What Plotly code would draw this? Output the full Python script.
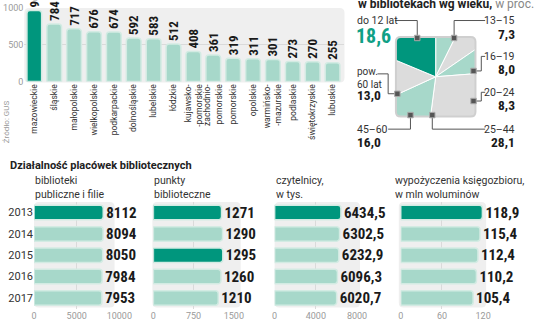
import plotly.graph_objects as go

# ---------------- data ----------------
regions = ["mazowieckie", "śląskie", "małopolskie", "wielkopolskie", "podkarpackie",
           "dolnośląskie", "lubelskie", "łódzkie", "kujawsko-<br>-pomorskie",
           "zachodnio-<br>pomorskie", "pomorskie", "opolskie", "warmińsko-<br>-mazurskie",
           "podlaskie", "świętokrzyskie", "lubuskie"]
region_values = [965, 784, 717, 676, 674, 592, 583, 512, 408, 361, 319, 311, 301, 273, 270, 255]
region_ticks = [0, 500, 1000]

age_labels = ["do 12 lat", "13–15", "16–19", "20–24", "25–44", "45–60", "pow.<br>60 lat"]
age_values = [18.6, 7.3, 8.0, 8.3, 28.1, 16.0, 13.0]
pie_order = [1, 2, 3, 4, 5, 6, 0]  # clockwise from 12 o'clock

years = ["2013", "2014", "2015", "2016", "2017"]
libraries = [8112, 8094, 8050, 7984, 7953]
points = [1271, 1290, 1295, 1260, 1210]
readers = [6434.5, 6302.5, 6232.9, 6096.3, 6020.7]
loans = [118.9, 115.4, 112.4, 110.2, 105.4]
lib_ticks = [0, 5000, 10000]
pts_ticks = [0, 750, 1500]
rdr_ticks = [0, 4000, 8000]
loan_ticks = [0, 60, 120]

# ---------------- styling ----------------
W, H = 536, 332
DARK = "#00967d"
LIGHT = "#a7d8ca"
EDGE = "#d3ebe3"
GREY = "#dcdcdc"
PANEL = "#efefef"
GRID = "#dadada"
NUM = "Liberation Sans Narrow, Roboto Condensed, Arial Narrow, sans-serif"
TXT = "Roboto, Noto Sans, sans-serif"


def X(p):
    return p / W


def Y(p):
    return 1 - p / H


def fmt1(v):
    return f"{v:.1f}".replace(".", ",")


def rpath(x0, y0, x1, y1, r, reverse=False):
    if not reverse:
        pts = [("M", x0 + r, y0), ("L", x1 - r, y0), ("Q", x1, y0, x1, y0 + r),
               ("L", x1, y1 - r), ("Q", x1, y1, x1 - r, y1), ("L", x0 + r, y1),
               ("Q", x0, y1, x0, y1 - r), ("L", x0, y0 + r), ("Q", x0, y0, x0 + r, y0)]
    else:
        pts = [("M", x0 + r, y0), ("Q", x0, y0, x0, y0 + r), ("L", x0, y1 - r),
               ("Q", x0, y1, x0 + r, y1), ("L", x1 - r, y1), ("Q", x1, y1, x1, y1 - r),
               ("L", x1, y0 + r), ("Q", x1, y0, x1 - r, y0)]
    s = ""
    for p in pts:
        cmd = p[0]
        c = p[1:]
        coords = []
        for i in range(0, len(c), 2):
            coords.append(f"{X(c[i]):.5f},{Y(c[i+1]):.5f}")
        s += cmd + " " + " ".join(coords) + " "
    return s + "Z"


def poly(points_px):
    return "M " + " L ".join(f"{X(a):.5f},{Y(b):.5f}" for a, b in points_px)


fig = go.Figure()

# ---------------- top bar chart ----------------
fig.add_trace(go.Bar(
    x=regions, y=region_values,
    marker=dict(color=[DARK] + [LIGHT] * (len(regions) - 1), line=dict(color=EDGE, width=1.5),
                cornerradius=3),
    width=0.74,
    text=[str(v) for v in region_values], textposition="outside", textangle=-90,
    textfont=dict(family=NUM, size=13, color="#1a1a1a", weight="bold"), cliponaxis=False,
    constraintext="none", xaxis="x", yaxis="y", showlegend=False, hoverinfo="skip"))

# ---------------- pie ----------------
pie_colors = [LIGHT, GREY, LIGHT, GREY, LIGHT, GREY, DARK]
fig.add_trace(go.Pie(
    labels=[age_labels[i] for i in pie_order], values=[age_values[i] for i in pie_order],
    sort=False, direction="clockwise", rotation=0, textinfo="none",
    marker=dict(colors=pie_colors, line=dict(color="white", width=1)),
    domain=dict(x=[X(386), X(506)], y=[Y(134), Y(14)]), showlegend=False, hoverinfo="skip"))

# ---------------- bottom panels ----------------
panels = [
    (libraries, [str(v) for v in libraries], [DARK, LIGHT, LIGHT, LIGHT, LIGHT], lib_ticks, 32, 120),
    (points, [str(v) for v in points], [DARK, LIGHT, DARK, LIGHT, LIGHT], pts_ticks, 155, 238),
    (readers, [fmt1(v) for v in readers], [DARK, LIGHT, LIGHT, LIGHT, LIGHT], rdr_ticks, 280, 365),
    (loans, [fmt1(v) for v in loans], [DARK, LIGHT, LIGHT, LIGHT, LIGHT], loan_ticks, 410, 495),
]

layout_axes = {}
for k, (vals, txt, cols, ticks, x0, x1) in enumerate(panels):
    n = k + 2
    fig.add_trace(go.Bar(
        y=years, x=vals, orientation="h", width=0.68,
        marker=dict(color=cols, line=dict(color=EDGE, width=1.5), cornerradius=3),
        text=txt, textposition="outside",
        textfont=dict(family=NUM, size=15, color="#1a1a1a", weight="bold"),
        cliponaxis=False, constraintext="none",
        xaxis=f"x{n}", yaxis=f"y{n}", showlegend=False, hoverinfo="skip"))
    layout_axes[f"xaxis{n}"] = dict(
        domain=[X(x0), X(x1)], range=[0, ticks[-1] * 1.001], tickvals=ticks,
        ticktext=[str(t) for t in ticks], ticklabeloverflow="allow",
        showgrid=True, gridcolor=GRID, gridwidth=1, zeroline=False, showline=False,
        ticks="", tickfont=dict(size=9, color="#9a9a9a", family=TXT), anchor=f"y{n}", fixedrange=True)
    layout_axes[f"yaxis{n}"] = dict(
        domain=[Y(313), Y(203)], range=[4.5, -0.5], type="category",
        showticklabels=(k == 0), tickfont=dict(size=11, color="#333", family=TXT),
        showgrid=False, zeroline=False, showline=False, ticks="", anchor=f"x{n}", fixedrange=True)

# ---------------- shapes ----------------
shapes = []
for (a, b, c, d) in [(22, 3, 352, 80), (32, 203, 115, 312), (154, 203, 245, 312),
                     (280, 203, 368, 312), (408, 203, 498, 312)]:
    shapes.append(dict(type="path", xref="paper", yref="paper", path=rpath(a, b, c, d, 5),
                       fillcolor=PANEL, line=dict(width=0), layer="below"))

# mask the pie into a rounded square
outer = poly([(376, 8), (516, 8), (516, 144), (376, 144)]) + " Z "
shapes.append(dict(type="path", xref="paper", yref="paper",
                   path=outer + rpath(405, 33, 487, 115, 5, reverse=True),
                   fillcolor="white", line=dict(width=0), layer="above"))
shapes.append(dict(type="path", xref="paper", yref="paper", path=rpath(405, 33, 487, 115, 5),
                   fillcolor="rgba(0,0,0,0)", line=dict(color="#cfcfcf", width=2), layer="above"))

connectors = [
    [(404, 16), (427, 16), (427, 34)],
    [(465, 34), (465, 16), (497, 16)],
    [(485, 68), (493, 68), (493, 53), (497, 53)],
    [(485, 99), (493, 99), (493, 90), (497, 90)],
    [(442.5, 113.5), (442.5, 128), (497, 128)],
    [(420, 113.5), (420, 128), (397, 128)],
    [(406.5, 91.5), (397, 91.5), (397, 71), (386, 71)],
]
for c in connectors:
    shapes.append(dict(type="path", xref="paper", yref="paper", path=poly(c),
                       line=dict(color="#555", width=1), layer="above"))
for (mx, my) in [(427, 34), (465, 34), (485, 68), (485, 99), (442.5, 113.5), (420, 113.5), (406.5, 91.5)]:
    shapes.append(dict(type="rect", xref="paper", yref="paper",
                       x0=X(mx - 2.8), x1=X(mx + 2.8), y0=Y(my + 2.8), y1=Y(my - 2.8),
                       fillcolor="#555", line=dict(color="#aaa", width=1), layer="above"))

# ---------------- annotations ----------------
ann = []


def A(x, y, text, size, color="#333", xanchor="left", yanchor="middle", family=TXT, angle=0):
    ann.append(dict(x=X(x), y=Y(y), xref="paper", yref="paper", text=text, showarrow=False,
                    xanchor=xanchor, yanchor=yanchor, align=xanchor if xanchor != "center" else "center",
                    font=dict(size=size, color=color, family=family), textangle=angle,
                    borderpad=0))


A(365, 7, "<b>w bibliotekach wg wieku,</b> <span style='color:#888'>w proc.</span>", 12,
  color="#222", yanchor="bottom")
A(3, 120, "Źródło: GUS", 8, color="#999", xanchor="center", angle=-90)

# age labels
A(364, 16, age_labels[0], 10.5)
A(363, 32, f"<b>{fmt1(age_values[0])}</b>", 20, color="#10a085", family=NUM)
right_rows = [(1, 16), (2, 53), (3, 90), (4, 128)]
for i, yy in right_rows:
    A(529, yy, age_labels[i], 10.5, xanchor="right")
    A(529, yy + 13.5, f"<b>{fmt1(age_values[i])}</b>", 13.5, color="#1a1a1a", xanchor="right", family=NUM)
A(364, 128, age_labels[5], 10.5)
A(364, 141.5, f"<b>{fmt1(age_values[5])}</b>", 13.5, color="#1a1a1a", family=NUM)
A(364, 75, age_labels[6], 10)
A(364, 93, f"<b>{fmt1(age_values[6])}</b>", 13.5, color="#1a1a1a", family=NUM)

# bottom titles
A(6, 165, "<b>Działalność placówek bibliotecznych</b>", 11, color="#222")
subtitles = [(32, "biblioteki<br>publiczne i filie"), (155, "punkty<br>biblioteczne"),
             (280, "czytelnicy,<br>w tys."), (403, "wypożyczenia księgozbioru,<br>w mln woluminów")]
for sx, t in subtitles:
    A(sx, 188.5, t, 10.5)

fig.update_layout(
    width=W, height=H, margin=dict(l=0, r=0, t=0, b=0),
    paper_bgcolor="white", plot_bgcolor="rgba(0,0,0,0)",
    font=dict(family=TXT, color="#333"),
    showlegend=False,
    xaxis=dict(domain=[X(22), X(352)], range=[-0.5, 15.6], tickangle=-90,
               tickfont=dict(size=8.5, color="#333", family=TXT), showgrid=False, zeroline=False,
               showline=False, ticks="", anchor="y", fixedrange=True),
    yaxis=dict(domain=[Y(79), Y(3)], range=[0, 1001], tickvals=region_ticks,
               ticktext=[str(t) for t in region_ticks], showgrid=True, gridcolor=GRID,
               ticklabeloverflow="allow",
               zeroline=False, showline=False, ticks="", tickfont=dict(size=9, color="#9a9a9a"),
               anchor="x", fixedrange=True),
    shapes=shapes, annotations=ann,
    **layout_axes,
)

fig.write_html("out.html")
